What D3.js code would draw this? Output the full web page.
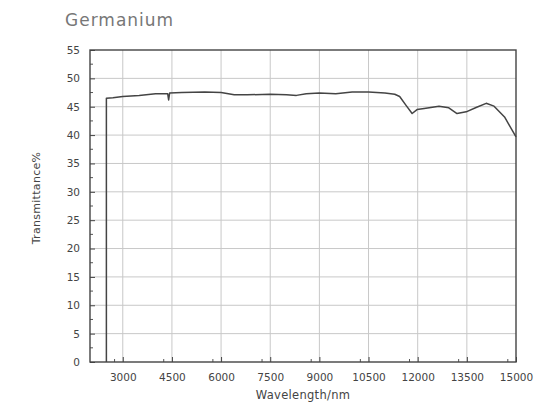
<!DOCTYPE html>
<html>
<head>
<meta charset="utf-8">
<script src="https://cdn.jsdelivr.net/npm/d3@7"></script>
<style>
  body { margin: 0; background: #fff; }
  svg { display: block; }
  .axis text { font-family: "DejaVu Sans", sans-serif; font-size: 10.5px; fill: #444; }
  .grid line { stroke: #c8c8c8; stroke-width: 1; }
</style>
</head>
<body>
<svg width="544" height="405"></svg>
<script>
// data
var wavelength = [2500, 2500, 2700, 3000, 3500, 4000, 4370, 4400, 4430, 4800, 5500, 6000, 6400, 6800, 7500, 8000, 8300, 8600, 9000, 9500, 10000, 10500, 11000, 11300, 11450, 11650, 11830, 11980, 12200, 12650, 12950, 13200, 13480, 13800, 14090, 14330, 14650, 15000];
var transmittance = [0, 46.5, 46.6, 46.8, 47.0, 47.3, 47.3, 46.2, 47.4, 47.5, 47.6, 47.5, 47.1, 47.1, 47.2, 47.1, 47.0, 47.3, 47.4, 47.3, 47.6, 47.6, 47.4, 47.2, 46.8, 45.2, 43.8, 44.5, 44.7, 45.1, 44.8, 43.8, 44.1, 44.9, 45.6, 45.1, 43.2, 39.7];
var xTicks = [3000, 4500, 6000, 7500, 9000, 10500, 12000, 13500, 15000];
var yTicks = [0, 5, 10, 15, 20, 25, 30, 35, 40, 45, 50, 55];

var svg = d3.select("svg"),
    margin = {top: 50, right: 28, bottom: 43, left: 90},
    width = +svg.attr("width") - margin.left - margin.right,
    height = +svg.attr("height") - margin.top - margin.bottom;

var x = d3.scaleLinear().domain([2000, 15000]).range([0, width]),
    y = d3.scaleLinear().domain([0, 55]).range([height, 0]);

var g = svg.append("g")
    .attr("transform", "translate(" + margin.left + "," + margin.top + ")");

// rasterlijnen
g.append("g").attr("class", "grid")
  .selectAll("line").data(yTicks.slice(1, -1)).enter().append("line")
    .attr("x1", 0).attr("x2", width)
    .attr("y1", function(d) { return y(d); }).attr("y2", function(d) { return y(d); });
g.append("g").attr("class", "grid")
  .selectAll("line").data(xTicks.slice(0, -1)).enter().append("line")
    .attr("y1", 0).attr("y2", height)
    .attr("x1", function(d) { return x(d); }).attr("x2", function(d) { return x(d); });

// kleine streepjes
var minorX = d3.range(2750, 15000, 1500),
    minorY = d3.range(2.5, 55, 5);
g.append("g").selectAll("line").data(minorX).enter().append("line")
    .attr("x1", function(d) { return x(d); }).attr("x2", function(d) { return x(d); })
    .attr("y1", height).attr("y2", height - 3)
    .attr("stroke", "#555");
g.append("g").selectAll("line").data(minorY).enter().append("line")
    .attr("x1", 0).attr("x2", 3)
    .attr("y1", function(d) { return y(d); }).attr("y2", function(d) { return y(d); })
    .attr("stroke", "#555");

// assen
var xAxis = g.append("g")
    .attr("class", "axis")
    .attr("transform", "translate(0," + height + ")")
    .call(d3.axisBottom(x).tickValues(xTicks).tickSizeInner(-5).tickSizeOuter(0).tickPadding(12).tickFormat(d3.format("d")));
var yAxis = g.append("g")
    .attr("class", "axis")
    .call(d3.axisLeft(y).tickValues(yTicks).tickSizeInner(-5).tickSizeOuter(0).tickPadding(10));
g.selectAll(".axis .domain").remove();
g.selectAll(".axis line").attr("stroke", "#444");

// kader
g.append("rect")
    .attr("width", width).attr("height", height)
    .attr("fill", "none").attr("stroke", "#444").attr("stroke-width", 1.4);

// curve
var pts = wavelength.map(function(w, i) { return [w, transmittance[i]]; });
g.append("path")
    .datum(pts)
    .attr("fill", "none")
    .attr("stroke", "#444")
    .attr("stroke-width", 1.5)
    .attr("stroke-linejoin", "round")
    .attr("d", d3.line().x(function(d) { return x(d[0]); }).y(function(d) { return y(d[1]); }));

// titel en labels
svg.append("text")
    .attr("x", 65).attr("y", 26)
    .style("font-family", "DejaVu Sans, sans-serif")
    .style("font-size", "17px")
    .style("letter-spacing", "1px")
    .attr("fill", "#777")
    .text("Germanium");

svg.append("text")
    .attr("x", margin.left + width / 2 - 0).attr("y", 399)
    .attr("text-anchor", "middle")
    .style("font-family", "DejaVu Sans, sans-serif")
    .style("font-size", "11.5px")
    .style("letter-spacing", "0.3px")
    .attr("fill", "#444")
    .text("Wavelength/nm");

svg.append("text")
    .attr("transform", "translate(40,198) rotate(-90)")
    .attr("text-anchor", "middle")
    .style("font-family", "DejaVu Sans, sans-serif")
    .style("font-size", "11px")
    .style("letter-spacing", "0.3px")
    .attr("fill", "#444")
    .text("Transmittance%");
</script>
</body>
</html>
